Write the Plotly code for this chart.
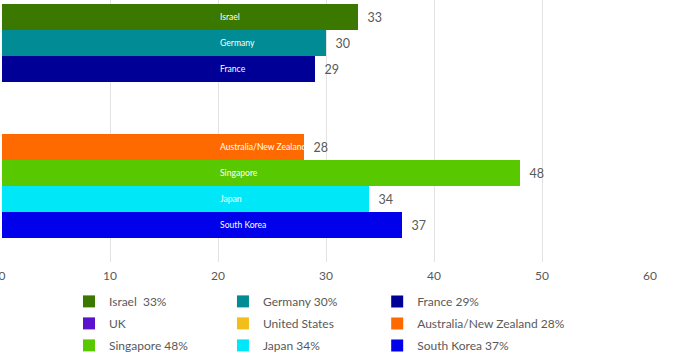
import plotly.graph_objects as go

countries = ["Israel", "Germany", "France", "UK", "United States",
             "Australia/New Zealand", "Singapore", "Japan", "South Korea"]
values = [33, 30, 29, None, None, 28, 48, 34, 37]
legend_labels = ["Israel  33%", "Germany 30%", "France 29%", "UK", "United States",
                 "Australia/New Zealand 28%", "Singapore 48%", "Japan 34%", "South Korea 37%"]
colors = ["#3a7800", "#008b95", "#000096", "#5a12cc", "#f2be1a",
          "#ff6a00", "#58c800", "#00e8f8", "#0000ea"]
legend_columns = ["legend", "legend2", "legend3"] * 3
x_ticks = [0, 10, 20, 30, 40, 50, 60]

FONT = "Lato"
GREY = "#595959"

fig = go.Figure()
for name, val, lab, col, lg in zip(countries, values, legend_labels, colors, legend_columns):
    fig.add_trace(go.Bar(
        x=[val], y=[name], orientation="h", name=lab,
        legend=lg, legendgroup=name,
        marker=dict(color=col, line=dict(width=0)),
        text=[f"  {val}" if val is not None else ""],
        textposition="outside", cliponaxis=False,
        textfont=dict(family=FONT, size=12.5, color=GREY),
        hoverinfo="skip",
    ))
    if val is not None:
        fig.add_annotation(x=20, y=name, xref="x", yref="y", text=name,
                           showarrow=False, xanchor="left", yanchor="middle",
                           font=dict(family=FONT, size=8.6, color="white"))

legend_style = dict(orientation="v", xanchor="left", y=-0.095, yanchor="top",
                    font=dict(family=FONT, size=12, color=GREY),
                    traceorder="grouped", tracegroupgap=3, itemclick=False,
                    bgcolor="rgba(0,0,0,0)")

fig.update_layout(
    width=680, height=356,
    margin=dict(l=2, r=30, t=0, b=94, autoexpand=False),
    paper_bgcolor="white", plot_bgcolor="white",
    barmode="overlay", bargap=0,
    showlegend=True,
    legend=dict(x=0.1034, **legend_style),
    legend2=dict(x=0.341, **legend_style),
    legend3=dict(x=0.579, **legend_style),
    font=dict(family=FONT, color=GREY),
)
fig.update_xaxes(range=[0, 60], tickvals=x_ticks, showgrid=True, gridcolor="#e3e3e3",
                 gridwidth=1, zeroline=False, showline=False, automargin=False,
                 ticklabeloverflow="allow", ticklabelstandoff=5,
                 tickfont=dict(family=FONT, size=12, color=GREY))
fig.update_yaxes(type="category", categoryorder="array", categoryarray=countries,
                 range=[9.42, -0.654], showticklabels=False, showgrid=False,
                 zeroline=False, showline=False, automargin=False)

fig.write_html("out.html", config={"displayModeBar": False},
               post_script="document.body.style.margin='0px';")
